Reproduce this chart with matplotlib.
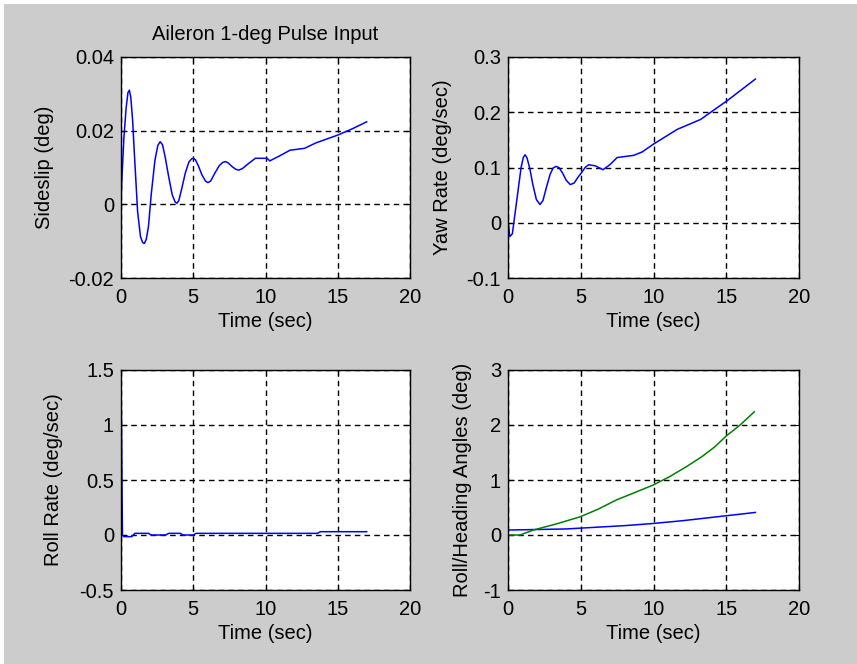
import matplotlib.pyplot as plt
from matplotlib.patches import Rectangle

plt.rcParams['font.family'] = ['Liberation Sans', 'DejaVu Sans']
plt.rcParams['font.size'] = 14.5

# sideslip (deg)
t_beta = [0, 0.05, 0.2, 0.35, 0.48, 0.58, 0.68, 0.8, 0.95, 1.15, 1.35, 1.5, 1.62,
          1.75, 1.9, 2.1, 2.35, 2.55, 2.71, 2.87, 3.05, 3.3, 3.55, 3.75, 3.87,
          4.0, 4.2, 4.45, 4.7, 4.9, 5.02, 5.15, 5.35, 5.6, 5.85, 6.02, 6.2, 6.5,
          6.8, 7.05, 7.22, 7.4, 7.7, 7.95, 8.15, 8.4, 8.8, 9.3, 10.1, 10.3, 11.0,
          11.7, 12.7, 13.5, 15.0, 16.0, 17.0]
beta = [0.0, 0.006, 0.018, 0.026, 0.0303, 0.031, 0.029, 0.023, 0.012, -0.002,
        -0.0088, -0.0104, -0.0106, -0.0095, -0.006, 0.003, 0.012, 0.016, 0.017,
        0.0162, 0.013, 0.0075, 0.0025, 0.0006, 0.0003, 0.001, 0.0042, 0.0085,
        0.0115, 0.0124, 0.0125, 0.0121, 0.0105, 0.008, 0.0063, 0.0059, 0.0063,
        0.0085, 0.0105, 0.0114, 0.0116, 0.0113, 0.0102, 0.0095, 0.0093, 0.0097,
        0.0110, 0.0125, 0.0125, 0.0118, 0.0132, 0.0147, 0.0152, 0.0167, 0.0188,
        0.0205, 0.0224]

# yaw rate (deg/sec)
t_r = [0, 0.02, 0.12, 0.3, 0.6, 0.9, 1.05, 1.17, 1.3, 1.5, 1.7, 1.95, 2.2, 2.4,
       2.65, 2.9, 3.1, 3.3, 3.5, 3.75, 4.0, 4.28, 4.55, 4.8, 5.08, 5.3, 5.54,
       6.0, 6.53, 7.0, 7.5, 8.64, 9.21, 9.98, 11.63, 13.24, 14.2, 15.07, 17.0]
r = [0.1, 0.0, -0.025, -0.02, 0.04, 0.1, 0.118, 0.123, 0.118, 0.098, 0.07, 0.042,
     0.033, 0.04, 0.065, 0.088, 0.099, 0.102, 0.1, 0.09, 0.077, 0.069, 0.072,
     0.082, 0.0915, 0.1, 0.105, 0.103, 0.096, 0.105, 0.118, 0.122, 0.128, 0.142,
     0.169, 0.187, 0.205, 0.221, 0.26]

# roll rate (deg/sec)
t_p = [0, 0.1, 0.2, 0.75, 0.95, 1.9, 2.1, 3.1, 3.3, 4.1, 4.3, 5.0, 5.2, 13.6,
       13.8, 17.0]
p = [1.5, 0.0, -0.015, -0.015, 0.015, 0.015, 0.0, 0.0, 0.015, 0.015, 0.0, 0.0,
     0.015, 0.015, 0.03, 0.03]

# roll / heading angles (deg)
t_phi = [0, 2, 4, 6, 8, 10, 12, 14, 16, 17]
phi = [0.09, 0.10, 0.11, 0.14, 0.17, 0.21, 0.26, 0.32, 0.38, 0.41]
t_psi = [0, 0.83, 1.74, 3.3, 4.95, 6.2, 7.47, 8.7, 9.99, 11.1, 12.25, 13.3, 14.2,
         15.0, 15.95, 16.93]
psi = [0.0, 0.0, 0.09, 0.2, 0.33, 0.47, 0.64, 0.77, 0.91, 1.06, 1.24, 1.42, 1.6,
       1.8, 2.0, 2.24]

W, H = 857, 664
fig = plt.figure(figsize=(W / 100, H / 100), dpi=100, facecolor='#cccccc')
fig.add_artist(Rectangle((0, 0), 4 / W, 1, transform=fig.transFigure,
                         facecolor='white', edgecolor='none'))
fig.add_artist(Rectangle((0, 1 - 4 / H), 1, 4 / H, transform=fig.transFigure,
                         facecolor='white', edgecolor='none'))


def make_ax(l, r_, t, b):
    ax = fig.add_axes([l / W, 1 - b / H, (r_ - l) / W, (b - t) / H])
    ax.set_facecolor('white')
    ax.grid(True, color='black', linestyle=(0, (4, 3)), linewidth=1.0)
    ax.tick_params(direction='in', length=4, top=True, right=True, colors='black')
    ax.tick_params(axis='y', pad=5)
    ax.tick_params(axis='x', pad=7.5)
    for s in ax.spines.values():
        s.set_linewidth(1.0)
    ax.set_xlim(0, 20)
    ax.set_xticks([0, 5, 10, 15, 20])
    ax.set_xlabel('Time (sec)', labelpad=3.5)
    return ax


ax1 = make_ax(121, 410, 57, 278)
ax1.plot(t_beta, beta, color='blue', lw=1.1)
ax1.set_ylim(-0.02, 0.04)
ax1.set_yticks([-0.02, 0, 0.02, 0.04])
ax1.set_yticklabels(['-0.02', '0', '0.02', '0.04'])
ax1.set_ylabel('Sideslip (deg)')
ax1.yaxis.set_label_coords(-0.232, 0.5)
ax1.set_title('Aileron 1-deg Pulse Input', fontsize=14.5, pad=12)

ax2 = make_ax(508, 799, 57, 278)
ax2.plot(t_r, r, color='blue', lw=1.1)
ax2.set_ylim(-0.1, 0.3)
ax2.set_yticks([-0.1, 0, 0.1, 0.2, 0.3])
ax2.set_yticklabels(['-0.1', '0', '0.1', '0.2', '0.3'])
ax2.set_ylabel('Yaw Rate (deg/sec)')
ax2.yaxis.set_label_coords(-0.192, 0.5)

ax3 = make_ax(121, 410, 370, 590)
ax3.plot(t_p, p, color='blue', lw=1.1)
ax3.set_ylim(-0.5, 1.5)
ax3.set_yticks([-0.5, 0, 0.5, 1, 1.5])
ax3.set_yticklabels(['-0.5', '0', '0.5', '1', '1.5'])
ax3.set_ylabel('Roll Rate (deg/sec)')
ax3.yaxis.set_label_coords(-0.2, 0.5)

ax4 = make_ax(508, 799, 370, 590)
ax4.plot(t_phi, phi, color='blue', lw=1.1)
ax4.plot(t_psi, psi, color='green', lw=1.1)
ax4.set_ylim(-1, 3)
ax4.set_yticks([-1, 0, 1, 2, 3])
ax4.set_yticklabels(['-1', '0', '1', '2', '3'])
ax4.set_ylabel('Roll/Heading Angles (deg)')
ax4.yaxis.set_label_coords(-0.124, 0.5)

fig.savefig('out.png', dpi=100, facecolor=fig.get_facecolor())
